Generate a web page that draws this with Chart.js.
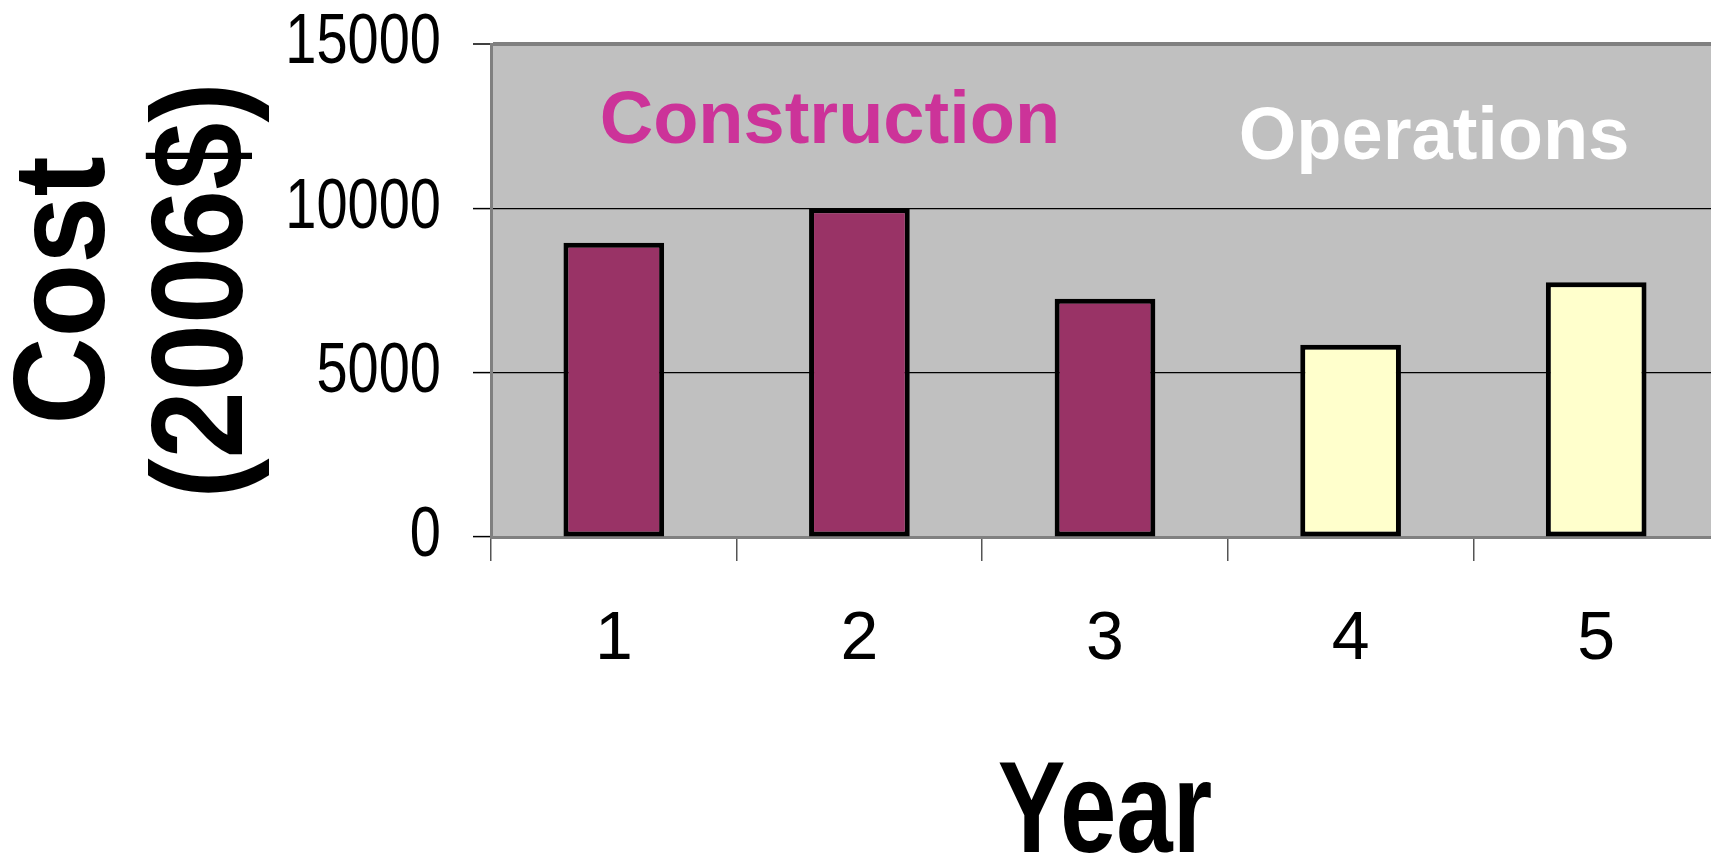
<!DOCTYPE html>
<html>
<head>
<meta charset="utf-8">
<script src="https://cdn.jsdelivr.net/npm/chart.js@4.4.0/dist/chart.umd.min.js"></script>
<style>
  html, body { margin: 0; padding: 0; background: #fff; overflow: hidden; }
  #wrap { width: 1719px; height: 868px; }
</style>
</head>
<body>
<div id="wrap"><canvas id="costChart"></canvas></div>
<script>
// data
const years = ['1', '2', '3', '4', '5'];
const construction = [8950, 10000, 7250, null, null];
const operations = [null, null, null, 5850, 7750];
const yTicks = [0, 5000, 10000, 15000];

const sans = "'Liberation Sans', Arial, sans-serif";

// the original uses a narrow face; squeeze the text we have instead
function squeeze(scale, method, sx, sy, anchor) {
  const base = Object.getPrototypeOf(scale)[method];
  scale[method] = function (...args) {
    const c = this.ctx;
    const [ax, ay] = anchor(this);
    c.save();
    c.translate(ax, ay);
    c.scale(sx, sy);
    c.translate(-ax, -ay);
    base.apply(this, args);
    c.restore();
  };
}

// gray plot area + phase labels
const plotArea = {
  id: 'plotArea',
  afterLayout(chart) {
    const { x, y } = chart.scales;
    if (x._squeezed) return;
    x._squeezed = true;
    squeeze(x, 'drawTitle', 0.78, 1, s => [(s.left + s.right) / 2, 0]);
    squeeze(y, 'drawTitle', 1, 0.93, s => [0, (s.top + s.bottom) / 2]);
    squeeze(y, 'drawLabels', 0.8, 1, s => [s.right - 50, 0]);
  },
  beforeDraw(chart) {
    const { ctx, chartArea: a } = chart;
    ctx.save();
    ctx.fillStyle = '#C0C0C0';
    ctx.fillRect(a.left, a.top, a.right - a.left, a.bottom - a.top);
    ctx.restore();
  },
  afterDraw(chart) {
    const { ctx, scales: { x, y } } = chart;
    ctx.save();
    ctx.font = 'bold 74px ' + sans;
    ctx.textAlign = 'center';
    ctx.textBaseline = 'alphabetic';
    ctx.fillStyle = '#CC3399';
    ctx.fillText('Construction', x.getPixelForValue(0.88), y.getPixelForValue(12000));
    ctx.fillStyle = '#FFFFFF';
    ctx.fillText('Operations', x.getPixelForValue(3.34), y.getPixelForValue(11500));
    ctx.restore();
  }
};

const ctx = document.getElementById('costChart').getContext('2d');
const costChart = new Chart(ctx, {
  type: 'bar',
  data: {
    labels: years,
    datasets: [
      {
        label: 'Construction',
        data: construction,
        backgroundColor: '#993366',
        borderColor: '#000000',
        borderWidth: 5,
        borderSkipped: false,
        grouped: false,
        barPercentage: 0.41,
        categoryPercentage: 1.0
      },
      {
        label: 'Operations',
        data: operations,
        backgroundColor: '#FFFFCC',
        borderColor: '#000000',
        borderWidth: 5,
        borderSkipped: false,
        grouped: false,
        barPercentage: 0.41,
        categoryPercentage: 1.0
      }
    ]
  },
  options: {
    responsive: true,
    maintainAspectRatio: false,
    animation: false,
    layout: { padding: 0 },
    plugins: {
      legend: { display: false },
      tooltip: { enabled: false }
    },
    scales: {
      x: {
        afterFit(scale) {
          scale.height = 331;
          scale.paddingLeft = 0;
          scale.paddingRight = 0;
        },
        grid: {
          offset: true,
          drawOnChartArea: false,
          drawTicks: true,
          tickLength: 24,
          color: '#555555',
          lineWidth: 1.5
        },
        border: { color: '#808080', width: 3 },
        ticks: {
          color: '#000',
          padding: 38,
          font: { family: sans, size: 68 }
        },
        title: {
          display: true,
          text: 'Year',
          color: '#000',
          font: { family: sans, size: 130, weight: 'bold', lineHeight: 0.8 },
          padding: { top: 0, bottom: 0 }
        }
      },
      y: {
        min: 0,
        max: 15000,
        afterBuildTicks(scale) {
          scale.ticks = yTicks.map(v => ({ value: v }));
        },
        afterFit(scale) {
          scale.width = 491;
          scale.paddingTop = 44;
          scale.paddingBottom = 0;
        },
        grid: {
          color: (c) => (c.tick && (c.tick.value === 15000 || c.tick.value === 0)) ? '#808080' : '#000000',
          lineWidth: (c) => (c.tick && c.tick.value === 15000) ? 4 : 1.2,
          tickLength: 18,
          tickColor: '#000000',
          tickWidth: 1.5
        },
        border: { color: '#808080', width: 3 },
        ticks: {
          color: '#000',
          padding: 32,
          font: { family: sans, size: 70 },
          callback: (v) => String(v)
        },
        title: {
          display: true,
          text: ['Cost', '(2006$)'],
          color: '#000',
          font: { family: sans, size: 130, weight: 'bold', lineHeight: 1.055 },
          padding: { top: 0, bottom: 7 }
        }
      }
    }
  },
  plugins: [plotArea]
});
</script>
</body>
</html>
